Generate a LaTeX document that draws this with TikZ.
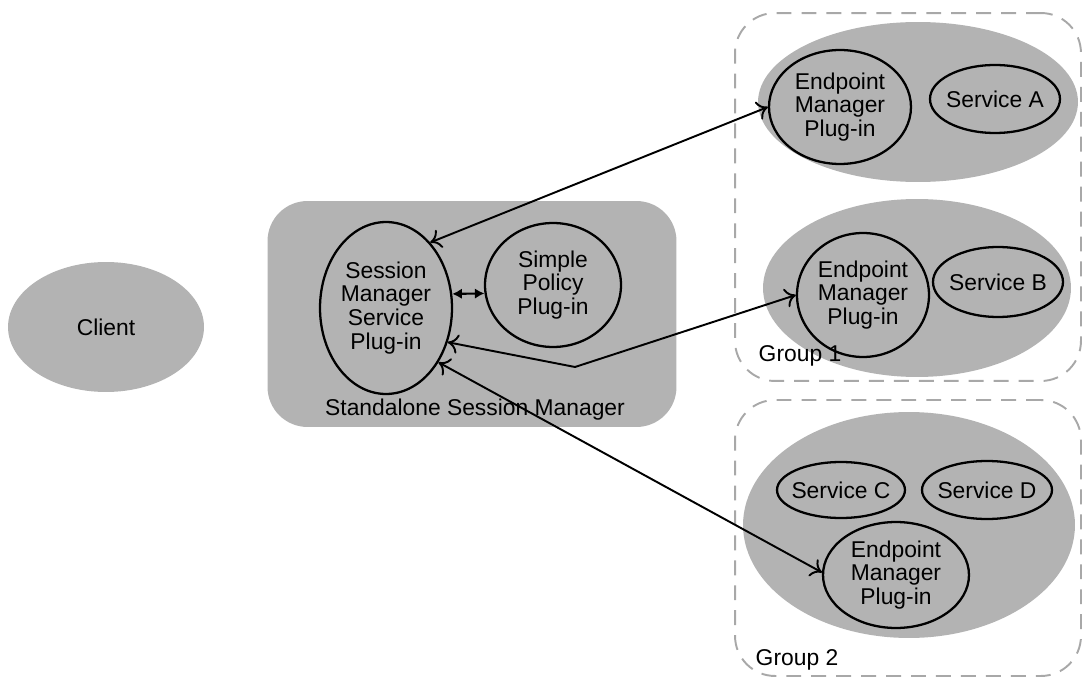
\documentclass[tikz,border=0pt]{standalone}
\usepackage{fontspec}
\setmainfont{Liberation Sans}
\usetikzlibrary{shapes.geometric,arrows.meta}
\definecolor{blobgray}{HTML}{B3B3B3}
\definecolor{dashgray}{HTML}{A8A8A8}
\begin{document}
\begin{tikzpicture}[x=0.02cm,y=-0.02cm,
  every node/.style={font=\fontsize{13}{13.6}\selectfont,align=center,inner sep=0pt},
  blob/.style={ellipse,fill=blobgray},
  plugin/.style={ellipse,draw,line width=1.3pt},
  svc/.style={ellipse,draw,line width=1.3pt,inner xsep=-5pt},
  group/.style={rectangle,rounded corners=0.8cm,draw=dashgray,dash pattern=on 8.5pt off 5.7pt,line width=1.1pt},
  link/.style={line width=1.1pt,{To[length=6pt,width=11pt]}-{To[length=6pt,width=11pt]}}]
\useasboundingbox (0,0) rectangle (1083,679);

% client and session manager
\node[blob,minimum width=3.92cm,minimum height=2.6cm] (client) at (106,327) {Client};
\node[rectangle,rounded corners=0.8cm,fill=blobgray,minimum width=8.18cm,minimum height=4.52cm] (ssm) at (472,314) {};
\node[plugin,minimum width=2.64cm,minimum height=3.44cm] (smsp) at (386,308) {Session\\Manager\\Service\\Plug-in};
\node[plugin,minimum width=2.72cm,minimum height=2.48cm] (policy) at (553,285) {Simple\\Policy\\Plug-in};
\node (ssmlabel) at (475,410) {Standalone Session Manager};

% group 1
\node[group,minimum width=6.92cm,minimum height=7.36cm] (group1) at (908,197) {};
\node[blob,minimum width=6.4cm,minimum height=3.2cm] (g1top) at (918,102) {};
\node[blob,minimum width=6.16cm,minimum height=3.56cm] (g1bot) at (917,288) {};
\node[plugin,minimum width=2.84cm,minimum height=2.28cm] (epa) at (840,107) {Endpoint\\Manager\\Plug-in};
\node[svc,minimum width=2.6cm,minimum height=1.36cm] (svca) at (995,99) {Service A};
\node[plugin,minimum width=2.64cm,minimum height=2.48cm] (epb) at (863,295) {Endpoint\\Manager\\Plug-in};
\node[svc,minimum width=2.6cm,minimum height=1.4cm] (svcb) at (998,282) {Service B};
\node (g1label) at (800,356) {Group 1};

% group 2
\node[group,minimum width=6.92cm,minimum height=5.52cm] (group2) at (908,538) {};
\node[blob,minimum width=6.64cm,minimum height=4.52cm] (g2) at (909,525) {};
\node[svc,minimum width=2.56cm,minimum height=1.12cm] (svcc) at (841,490) {Service C};
\node[svc,minimum width=2.6cm,minimum height=1.16cm] (svcd) at (987,490) {Service D};
\node[plugin,minimum width=2.92cm,minimum height=2.12cm] (epc) at (896,575) {Endpoint\\Manager\\Plug-in};
\node (g2label) at (797,660) {Group 2};

\coordinate (bend) at (575,367);
\draw[link] (epa.west) -- (smsp.56);
\draw[link] (epb.180) -- (bend) -- (smsp.-29);
\draw[link] (epc.178) -- (smsp.-46);
\draw[line width=1.2pt,{Latex[length=5.5pt,width=6pt]}-{Latex[length=5.5pt,width=6pt]}] (smsp.12) -- (policy.187);
\end{tikzpicture}
\end{document}
